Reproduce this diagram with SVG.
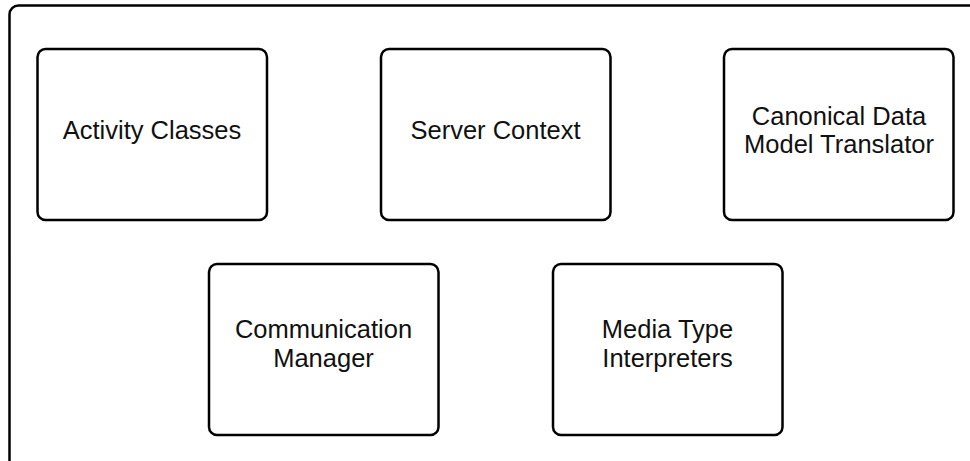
<svg xmlns="http://www.w3.org/2000/svg" width="970" height="461" viewBox="0 0 970 461">
<style>
.frame{fill:#fff;stroke:#000;stroke-width:2.5}
.box{fill:#fff;stroke:#000;stroke-width:2.5}
.lbl{font-family:"Liberation Sans",Arial,sans-serif;font-size:25.5px;fill:#111;text-anchor:middle}
</style>
<rect x="0" y="0" width="970" height="461" fill="#fff"/>
<g id="frame"><rect class="frame" x="9.5" y="5.5" width="980" height="480" rx="9"/></g>
<g id="connectors"></g>
<g id="activity-classes">
<rect class="box" x="37.5" y="49" width="229.5" height="171" rx="8"/>
<text class="lbl" x="152" y="139">Activity Classes</text>
</g>
<g id="server-context">
<rect class="box" x="381" y="49" width="229.5" height="171" rx="8"/>
<text class="lbl" x="495.5" y="139">Server Context</text>
</g>
<g id="canonical-data-model-translator">
<rect class="box" x="724" y="49" width="229.5" height="171" rx="8"/>
<text class="lbl" x="839" y="125">Canonical Data</text>
<text class="lbl" x="839" y="153">Model Translator</text>
</g>
<g id="communication-manager">
<rect class="box" x="209" y="264" width="229.5" height="171" rx="8"/>
<text class="lbl" x="323.5" y="338">Communication</text>
<text class="lbl" x="323.5" y="367">Manager</text>
</g>
<g id="media-type-interpreters">
<rect class="box" x="553" y="264" width="229.5" height="171" rx="8"/>
<text class="lbl" x="667.5" y="338">Media Type</text>
<text class="lbl" x="667.5" y="367">Interpreters</text>
</g>
</svg>
